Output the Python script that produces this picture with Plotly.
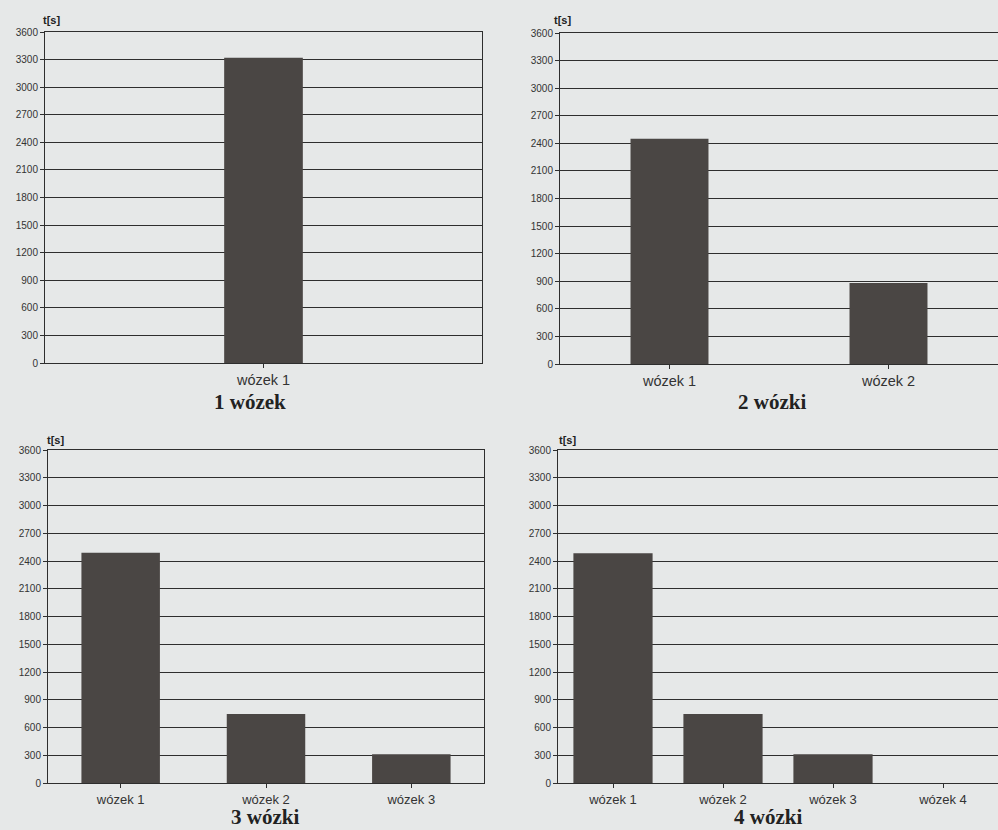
import plotly.graph_objects as go

cats_1 = ["wózek 1"]
times_1 = [3320]
cats_2 = ["wózek 1", "wózek 2"]
times_2 = [2450, 880]
cats_3 = ["wózek 1", "wózek 2", "wózek 3"]
times_3 = [2490, 745, 310]
cats_4 = ["wózek 1", "wózek 2", "wózek 3", "wózek 4"]
times_4 = [2485, 745, 310, 0]
titles = ["1 wózek", "2 wózki", "3 wózki", "4 wózki"]
y_ticks = list(range(0, 3601, 300))

W, H = 998, 830
BG = "#e6e8e8"
BAR = "#4a4644"
GRID = "#2e2e2e"

panels = [
    # (cats, vals, x0px, x1px, ytop, ybot, barwidth, xfont, title_x, title_y, ts_dx, ts_dy)
    (cats_1, times_1, 45, 482, 32, 363, 0.18, 14.5, 250, 402, -4, 12),
    (cats_2, times_2, 560, 998, 33, 364, 0.356, 14.5, 772, 402, -8, 13),
    (cats_3, times_3, 48, 484, 450, 783, 0.54, 13, 265, 817, -3, 10),
    (cats_4, times_4, 558, 998, 450, 783, 0.72, 13, 768, 817, -1, 10),
]

fig = go.Figure()
layout = dict(
    width=W, height=H, margin=dict(l=0, r=0, t=0, b=0, autoexpand=False),
    paper_bgcolor=BG, plot_bgcolor=BG, showlegend=False,
    font=dict(family="Liberation Sans, Arial, sans-serif", color="#333"),
)
annotations = []
for i, (cats, vals, x0, x1, yt, yb, bw, xf, tx, ty, dx, dy) in enumerate(panels):
    n = i + 1
    xa = "x" if n == 1 else f"x{n}"
    ya = "y" if n == 1 else f"y{n}"
    fig.add_trace(go.Bar(x=cats, y=vals, width=bw, marker=dict(color=BAR, line=dict(width=0)),
                         xaxis=xa, yaxis=ya))
    xkey = "xaxis" if n == 1 else f"xaxis{n}"
    ykey = "yaxis" if n == 1 else f"yaxis{n}"
    layout[xkey] = dict(
        domain=[x0 / W, x1 / W], anchor=ya, range=[-0.5, len(cats) - 0.5],
        showline=True, linecolor=GRID, linewidth=1, mirror=True,
        ticks="outside", ticklen=4, tickcolor=GRID, showgrid=False,
        tickfont=dict(size=xf, color="#333"),
    )
    layout[ykey] = dict(
        domain=[1 - yb / H, 1 - yt / H], anchor=xa, range=[0, 3600],
        tickvals=y_ticks, showgrid=True, gridcolor=GRID, gridwidth=1,
        showline=True, linecolor=GRID, linewidth=1, mirror=True,
        ticks="outside", ticklen=4, tickcolor=GRID,
        tickfont=dict(size=10, color="#333"), zeroline=False,
    )
    annotations.append(dict(
        text=f"<b>{titles[i]}</b>", x=tx / W, y=1 - ty / H,
        xref="paper", yref="paper", showarrow=False,
        xanchor="center", yanchor="middle",
        font=dict(family="Liberation Serif, Times New Roman, serif", size=21, color="#222"),
    ))
    annotations.append(dict(
        text="<b>t[s]</b>", x=(x0 + dx) / W, y=1 - (yt - dy) / H, xref="paper", yref="paper",
        showarrow=False, xanchor="left", yanchor="middle", font=dict(size=11, color="#222"),
    ))
layout["annotations"] = annotations
fig.update_layout(**layout)
fig.write_html(
    "out.html",
    config={"displayModeBar": False},
    post_script="document.body.style.margin='0';document.body.style.overflow='hidden';document.body.style.background='%s';" % BG,
)
